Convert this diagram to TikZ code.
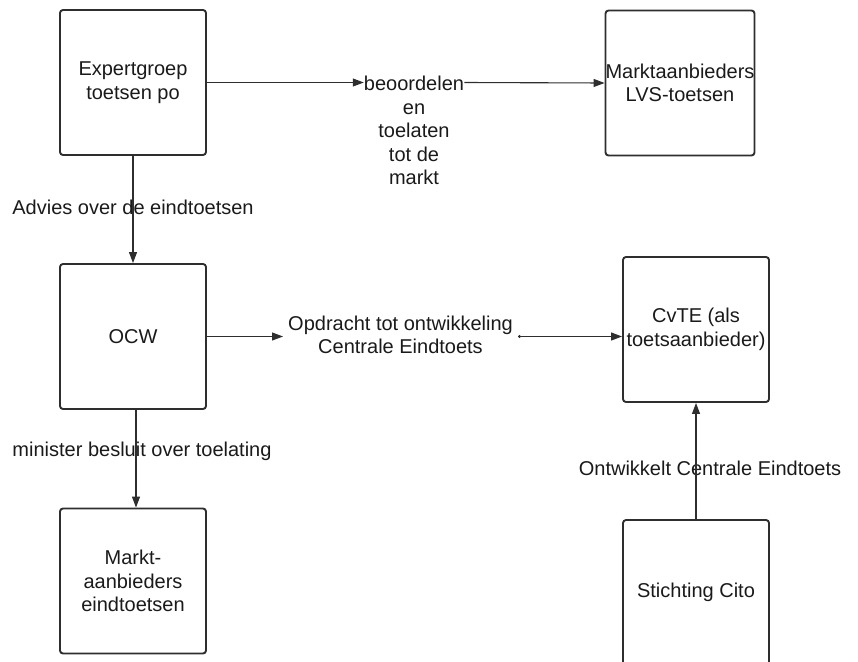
\documentclass[tikz,border=0pt]{standalone}
\usepackage{fontspec}
\setmainfont{Liberation Sans}
\usetikzlibrary{arrows.meta}
\definecolor{lijn}{HTML}{2E2E2E}
\definecolor{tekst}{HTML}{1A1A1A}

\begin{document}
\begin{tikzpicture}[x=1pt,y=-1pt,
  every node/.style={font=\fontsize{20}{23.5}\selectfont,text=tekst},
  blok/.style={draw=lijn,line width=1.9pt,rounded corners=3pt,
    minimum width=146pt,minimum height=145pt,align=center,inner sep=0pt},
  label/.style={align=center,inner sep=0pt},
  pijl/.style={draw=lijn,line width=1.1pt,-{Triangle[length=11pt,width=8pt]}},
  puntpijl/.style={pijl,{Circle[length=3pt]}-{Triangle[length=11pt,width=8pt]}}]
\clip (0,0) rectangle (858,661);
% boxes
\node[blok] (expert) at (133,82.5) {Expertgroep\\toetsen po};
\node[blok] (lvs) at (680,83) {Marktaanbieders\\LVS-toetsen};
\node[blok] (ocw) at (133,336.5) {OCW};
\node[blok] (markt) at (133,581) {Markt-\\aanbieders\\eindtoetsen};
\node[blok] (cvte) at (696,329.5) {CvTE (als\\toetsaanbieder)};
\node[blok] (cito) at (696,592.5) {Stichting Cito};
% labels
\node[label,anchor=north] (beoord) at (414,76) {beoordelen\\en\\toelaten\\tot de\\markt};
\node[label,inner xsep=5pt] (opdracht) at (400.5,335) {Opdracht tot ontwikkeling\\Centrale Eindtoets};
\node[label] (advies) at (133,207) {Advies over de eindtoetsen};
\node[label] (minister) at (142,451) {minister besluit over toelating};
\node[label] (ontw) at (710,468) {Ontwikkelt Centrale Eindtoets};
% arrows
\draw[pijl] (expert.east) -- (expert.east -| beoord.west);
\draw[pijl] (expert.east -| beoord.east) -- (lvs.west);
\draw[pijl] (expert) -- (ocw);
\draw[pijl] ([xshift=3pt]ocw.south) -- ([xshift=3pt]markt.north);
\draw[pijl] (ocw.east) -- (ocw.east -| opdracht.west);
\draw[puntpijl] (ocw.east -| opdracht.east) -- (ocw.east -| cvte.west);
\draw[pijl] (cito) -- (cvte);
\end{tikzpicture}
\end{document}
